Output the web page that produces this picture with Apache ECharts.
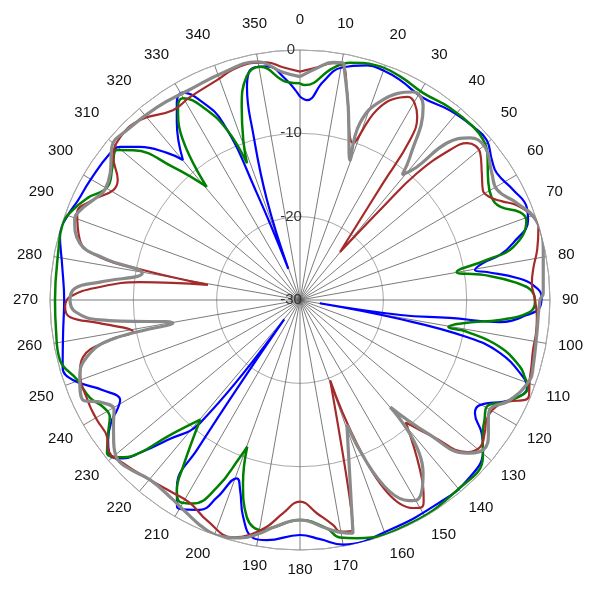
<!DOCTYPE html>
<html>
<head>
<meta charset="utf-8">
<script src="https://cdn.jsdelivr.net/npm/echarts@6/dist/echarts.min.js"></script>
<style>
html,body{margin:0;padding:0;background:#ffffff;}
#chart{width:600px;height:600px;}
</style>
</head>
<body>
<div id="chart"></div>
<script>
// Angle tick labels (degrees) and radial ticks (dB)
const angleTicks = [0,10,20,30,40,50,60,70,80,90,100,110,120,130,140,150,160,170,180,190,200,210,220,230,240,250,260,270,280,290,300,310,320,330,340,350];
const radialTicks = [-30, -20, -10, 0];

// Blue series
const blueAngle = [0,2,6,10,16,20,24.4,31.3,38.3,45,49.4,53.9,57.2,62.7,67.7,70.7,75,77.3,78.6,80.3,81.5,84.2,86.3,89.3,91.7,93.8,96.3,96.8,98.5,99.4,100.8,102.5,104.8,109,111,115.5,120.3,122.9,126.2,129.3,137.1,146,158.6,170,175.2,180,187.9,191.2,194.7,197.5,199.5,202.8,205.5,210.7,213.3,214.5,219.3,219.1,223.5,226.3,228.2,230.1,233.9,237.4,239,240.9,245.4,250.6,254.2,262.1,270,277.9,285.5,289.6,294.2,299.7,307.7,310.4,313.7,317.9,320.1,325.2,328,330.5,333.4,336.5,338,339.5,341.7,344.3,346,348.5,352,356,360];
const blueDb    = [-5.6,-6.0,-3.7,-1.7,-0.7,-0.7,-1.0,-1.6,-1.0,-0.6,-0.5,-1.5,-1.9,-1.2,-0.6,-1.0,-3.5,-5.4,-7.6,-8.7,-7.3,-3.8,-2.0,-1.0,-1.2,-2.7,-5.9,-11.9,-17.8,-27.6,-17.8,-9.5,-5.2,-1.7,-0.8,-2.1,-5.0,-5.0,-3.0,-1.6,-0.5,-0.5,-0.4,-0.2,-1.2,-1.8,-0.9,-0.9,-3.1,-6.1,-7.3,-4.3,-2.1,-1.1,-3.1,-8.2,-27,-11,-6.8,-3.5,-1.5,-0.6,-1.5,-3.2,-4.4,-5.3,-4.0,-1.1,-0.4,-1.3,-1.7,-1.2,-0.1,-0.3,-0.8,-1.0,-1.2,-1.65,-3.4,-6.2,-8.1,-4.1,-2.1,-1.4,-3.2,-6.8,-16,-26,-17.4,-9.2,-3.7,-1.6,-1.7,-3.3,-5.6];

// Green series
const greenAngle = [0,1.3,8.1,11.9,18,24,30.7,38,45,48.8,51.8,57.4,61.7,65,68.2,70.6,76,77.9,79.9,82.2,85.5,88.3,90.5,93,95.7,97.8,100.3,100.8,103.2,106.9,108.9,110.8,115.5,119.8,123,126,130.6,140.4,154.8,166.5,170.5,173.3,180,186.8,189.1,193.8,197.3,199.8,200.9,203.9,207.8,210.7,212.9,215,219.8,224.2,226.3,228.4,231.6,235.3,238.4,241.5,245,250.3,256,263,270,281.7,287.5,290.9,295.6,300.4,305.4,309.3,311.9,316.3,320.5,323.8,327.7,329.9,333.3,336.8,338.8,340.5,343.2,346.6,350.3,356.6,360];
const greenDb    = [-4.0,-4.2,-1.9,-0.9,-0.4,-0.6,-1.1,-0.75,-0.6,-0.8,-1.4,-3.2,-3.9,-3.5,-1.6,-1.2,-3.6,-7.1,-10.9,-7.8,-3.9,-2.0,-1.8,-2.4,-5.9,-9.8,-11.9,-9.6,-5.4,-2.4,-1.5,-0.7,-2.0,-4.2,-3.6,-2.9,-1.1,-0.4,-0.1,-0.6,-1.1,-2.4,-3.6,-2.5,-2.0,-3.2,-7.0,-11.3,-9.8,-5.4,-2.4,-1.8,-2.8,-5.5,-11.3,-7.1,-3.5,-1.6,-0.45,-2.0,-3.2,-3.1,-2.2,-1.6,-0.3,-0.5,-0.6,-0.4,-0.1,-0.5,-1.7,-3.2,-2.4,-1.6,-3.1,-7.9,-12.4,-6.2,-2.6,-2.0,-4.1,-7.8,-12.4,-9.6,-5.8,-2.4,-1.6,-3.8,-4.0];

// Red series
const redAngle = [0,4.2,7.9,10.4,12.6,18.7,22,26.3,28,32.6,34.5,35.4,39.8,41.7,42.7,45,46.8,50.8,55.1,59,61.5,64,66.4,70.4,73.1,78,82,85.8,90,94.1,98,102.1,106.1,109.3,112.9,116.9,119.7,122.7,125.7,129.2,132.3,135.8,139.2,144.8,148.5,150,151.5,159.4,167,170.2,171.6,175.4,180,184.6,188.3,192,195.7,202.9,208.5,213.3,219.8,227.4,232,234.6,239.4,244.2,251.6,255.3,258.1,259.2,263.4,265.8,268.3,270.8,273.7,276.4,279.3,280.8,282.1,285.3,291.3,295.8,300.5,303.4,307.4,312.2,318.4,326.2,331.5,339.3,343.8,348.8,352,355.8,360];
const redDb    = [-2.6,-2.0,-1.3,-1.3,-4.2,-10.1,-5.4,-2.9,-2.4,-3.9,-6.7,-12.8,-22.5,-15,-9.3,-4.5,-2.5,-2.1,-3.4,-4.4,-4.1,-3.0,-1.6,-0.3,-0.1,-0.9,-1.7,-2.1,-1.8,-1.5,-1.4,-1.4,-1.1,-0.8,-0.2,-2.7,-3.4,-3.4,-2.7,-2.1,-2.9,-7.1,-10.6,-5.0,-1.6,-1.2,-1.6,-19.7,-1.7,-1.8,-2.7,-4.3,-5.8,-4.3,-2.5,-1.2,-0.4,-1.3,-2.3,-2.3,-1.9,-1.1,-0.8,-1.6,-1.7,-1.8,-2.2,-3.1,-6.7,-9.6,-5.8,-2.3,-1.8,-2.4,-5.9,-10.7,-18.8,-10.8,-5.4,-2.6,-1.3,-2.4,-4.0,-3.8,-1.8,-0.9,-1.1,-2.6,-2.3,-1.8,-1.2,-1.0,-1.2,-2.0,-2.6];

// Gray series
const grayAngle = [0,4.2,7.9,10.3,11,14,19.7,18.7,22.5,28.5,32.5,37.6,39.2,41.3,43.1,46.4,50.4,56.5,60.8,65.9,71.4,78.4,88.4,90,97.9,106,109.2,115.5,120,122.5,125.3,129.3,132.5,136.3,139.9,144.6,149.7,151.5,159.4,167.2,169.5,173.3,180,186.8,189.7,194.2,197.1,202,209.1,212.4,219.8,226,229.4,233,236,239.5,242.5,245.3,250.7,255,258.1,259.7,264.3,267,270,273,275.1,279.7,282,284.5,289.6,292.2,296.9,299.4,303.8,309.1,314.5,323.5,332.4,341.3,349.8,355.7,360];
const grayDb    = [-3.2,-2.1,-1.2,-1.1,-2.0,-6.1,-12.2,-7.6,-4.0,-1.6,-2.5,-8.4,-10.6,-8.8,-4.2,-1.8,-1.2,-2.4,-2.9,-1.5,-0.1,-0.2,-0.8,-1.2,-1.3,-0.9,-0.8,-2.1,-3.7,-3.2,-2.3,-1.6,-2.8,-7.9,-13.2,-4.5,-2.2,-2.6,-14,-1.3,-1.6,-2.4,-3.6,-2.5,-1.6,-0.55,-0.2,-0.2,-1.2,-1.6,-1.9,-1.1,-1.0,-2.0,-3.0,-4.1,-3.3,-1.3,-2.0,-3.5,-6.7,-14.5,-5.9,-3.0,-2.4,-3.0,-5.9,-10.8,-6.0,-2.7,-1.3,-1.5,-2.7,-3.1,-2.6,-0.9,-0.9,-1.2,-1.5,-1.2,-0.95,-2.6,-3.2];

function toPairs(angles, db) { return angles.map((a, i) => [db[i], a]); }

const chart = echarts.init(document.getElementById('chart'), null, {renderer: 'canvas'});
const font = 'Liberation Sans, Arial, sans-serif';

function lineSeries(name, angles, db, color, width) {
  return {
    name: name, type: 'line', coordinateSystem: 'polar',
    data: toPairs(angles, db), symbol: 'none', smooth: 0.45,
    lineStyle: {color: color, width: width}, z: 3,
    animation: false
  };
}

chart.setOption({
  animation: false,
  backgroundColor: '#ffffff',
  polar: {center: ['50%', '50%'], radius: 250},
  angleAxis: {
    type: 'value', min: 0, max: 360, interval: 10, startAngle: 90, clockwise: true,
    axisLine: {show: true, lineStyle: {color: '#a8a8a8', width: 1}},
    axisTick: {show: false},
    axisLabel: {
      show: true, margin: 12, fontSize: 15, color: '#111', fontFamily: font,
      align: 'center', verticalAlign: 'middle', padding: [0, 0, 11, 0],
      formatter: function (v) { return (v >= 360) ? '' : String(v); }
    },
    splitLine: {show: true, lineStyle: {color: '#5a5a5a', width: 0.8}}
  },
  radiusAxis: {
    type: 'value', min: radialTicks[0], max: radialTicks[radialTicks.length - 1], interval: 10,
    axisLine: {show: false}, axisTick: {show: false},
    axisLabel: {show: true, fontSize: 15, color: '#333', fontFamily: font, margin: 9, align: 'center', verticalAlign: 'middle'},
    splitLine: {show: true, lineStyle: {color: '#a8a8a8', width: 1}}
  },
  series: [
    lineSeries('blue', blueAngle, blueDb, '#0000ff', 2.2),
    lineSeries('green', greenAngle, greenDb, '#008000', 2.5),
    lineSeries('red', redAngle, redDb, '#a52a2a', 2.2),
    lineSeries('gray', grayAngle, grayDb, '#8a8a8a', 3.2)
  ]
});
</script>
</body>
</html>
